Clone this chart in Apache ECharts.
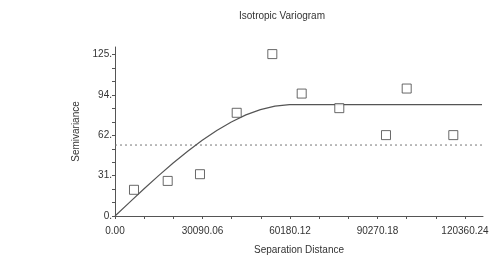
<!DOCTYPE html>
<html>
<head>
<meta charset="utf-8">
<script src="https://cdn.jsdelivr.net/npm/echarts@6/dist/echarts.min.js"></script>
<style>
html,body{margin:0;padding:0;background:#fff;}
#chart{width:502px;height:260px;}
</style>
</head>
<body>
<div id="chart"></div>
<script>
// tick labels as shown on the axes
const xTickLabels = ['0.00', '30090.06', '60180.12', '90270.18', '120360.24']
const yTickLabels = ['0.', '31.', '62.', '94.', '125.']
const xStep = 10030.02   // one third of a labelled step
const yStep = 125 / 12

// experimental semivariance points [distance, semivariance]
const pointDist = [6530, 18120, 29230, 41850, 54100, 64200, 77130, 93190, 100310, 116340]
const pointGamma = [20.3, 27.2, 32.4, 80.0, 125.5, 94.9, 83.6, 62.7, 98.8, 62.7]

// fitted model curve
const modelDist = [0, 5000, 10000, 15000, 20000, 25000, 30000, 35000, 40000, 45000, 50000, 55000, 60000, 126200]
const modelGamma = [0, 10.6, 21.1, 31.3, 41.1, 50.2, 58.7, 66.3, 72.9, 78.4, 82.5, 85.2, 86.4, 86.4]

// dotted sample variance line
const varianceLevel = 55
const xMax = 126550
const yMax = 131

let chart = echarts.init(document.getElementById('chart'))
let txt = '#333'
let ln = '#555'

chart.setOption({
    animation: false,
    textStyle: {fontFamily: 'Liberation Sans'},
    title: {
        text: 'Isotropic Variogram',
        left: 277,
        textAlign: 'center',
        top: 6,
        textStyle: {fontSize: 10, fontWeight: 'normal', color: txt, fontFamily: 'Liberation Sans'}
    },
    grid: {left: 115, right: 19, top: 47, bottom: 43, containLabel: false},
    xAxis: {
        type: 'value',
        min: 0,
        max: xMax,
        interval: xStep,
        name: 'Separation Distance',
        nameLocation: 'middle',
        nameGap: 29,
        nameTextStyle: {fontSize: 10, color: txt},
        splitLine: {show: false},
        axisLine: {lineStyle: {color: ln, width: 1}},
        axisTick: {length: 3, lineStyle: {color: ln}},
        axisLabel: {
            fontSize: 10,
            color: txt,
            margin: 10,
            showMaxLabel: false,
            formatter: function (v) {
                let k = Math.round(v / xStep)
                if (k % 3 === 0 && xTickLabels[k / 3] !== undefined && Math.abs(v - k * xStep) < 1) return xTickLabels[k / 3]
                return ''
            }
        }
    },
    yAxis: {
        type: 'value',
        min: 0,
        max: yMax,
        interval: yStep,
        name: 'Semivariance',
        nameLocation: 'middle',
        nameGap: 33,
        nameTextStyle: {fontSize: 10, color: txt},
        splitLine: {show: false},
        axisLine: {show: true, lineStyle: {color: ln, width: 1}},
        axisTick: {show: true, length: 3, lineStyle: {color: ln}},
        axisLabel: {
            fontSize: 10,
            color: txt,
            margin: 3,
            showMaxLabel: false,
            formatter: function (v) {
                let k = Math.round(v / yStep)
                if (k % 3 === 0 && yTickLabels[k / 3] !== undefined && Math.abs(v - k * yStep) < 0.01) return yTickLabels[k / 3]
                return ''
            }
        }
    },
    series: [
        {
            type: 'line',
            data: [[0, varianceLevel], [xMax, varianceLevel]],
            symbol: 'none',
            lineStyle: {color: '#777', width: 1, type: [2, 3]},
            z: 1
        },
        {
            type: 'line',
            data: modelDist.map((d, i) => [d, modelGamma[i]]),
            symbol: 'none',
            lineStyle: {color: ln, width: 1.2},
            z: 2
        },
        {
            type: 'scatter',
            data: pointDist.map((d, i) => [d, pointGamma[i]]),
            symbol: 'rect',
            symbolSize: 9,
            itemStyle: {color: '#fff', borderColor: '#444', borderWidth: 1},
            z: 3
        }
    ]
})
</script>
</body>
</html>
